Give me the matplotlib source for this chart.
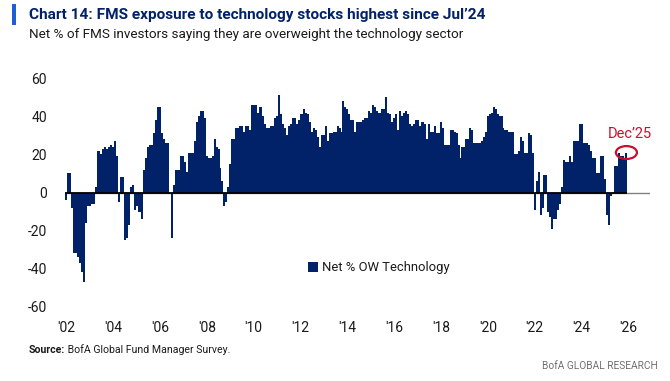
import matplotlib
matplotlib.use("Agg")
import matplotlib.pyplot as plt
from matplotlib import font_manager
from matplotlib.patches import Ellipse, Rectangle
import numpy as np

# ---------------- data (monthly, Jan 2002 - Dec 2025) ----------------
start_year = 2002
v2002 = [-4, 10, 10, -8, -32, -32, -34, -37, -42, -47, -16, -7]
v2003 = [-7, -6, -6, 3, 22, 22, 20, 23, 24, 23, 24, 25]
v2004 = [24, 27, 19, -5, 8, 8, -25, -24, -17, 3, 4, -9]
v2005 = [-7, -10, -10, -14, 12, 18, 24, 25, 25, 31, 38, 45]
v2006 = [45, 31, 28, 26, 26, -1, -24, 4, 12, 12, 12, 19]
v2007 = [19, 16, 11, 21, 21, 21, 27, 37, 40, 43, 43, 39]
v2008 = [19, 18, 18, 19, 28, 24, 23, 13, 6, -7, -5, 3]
v2009 = [15, 28, 28, 34, 34, 35, 35, 32, 35, 35, 33, 46]
v2010 = [46, 46, 42, 45, 45, 40, 36, 34, 34, 35, 35, 39]
v2011 = [40, 51, 41, 36, 34, 30, 35, 36, 39, 39, 36, 38]
v2012 = [41, 41, 44, 42, 41, 37, 32, 34, 33, 29, 24, 30]
v2013 = [30, 35, 27, 31, 31, 32, 32, 35, 34, 32, 48, 45]
v2014 = [44, 41, 38, 38, 32, 37, 37, 37, 38, 39, 39, 43]
v2015 = [42, 46, 45, 43, 42, 42, 44, 44, 50, 42, 41, 37]
v2016 = [39, 41, 33, 43, 40, 42, 43, 41, 36, 35, 36, 38]
v2017 = [38, 35, 37, 37, 36, 28, 36, 32, 32, 35, 31, 31]
v2018 = [37, 34, 25, 25, 25, 33, 33, 32, 31, 25, 18, 24]
v2019 = [24, 28, 28, 34, 33, 26, 26, 26, 26, 27, 29, 32]
v2020 = [40, 41, 42, 45, 44, 41, 40, 40, 34, 33, 33, 32]
v2021 = [32, 32, 20, 20, 22, 29, 27, 21, 21, 31, 30, 21]
v2022 = [-9, 6, 11, -12, -8, 9, 9, -10, -13, -19, -14, -14]
v2023 = [-9, -6, 3, 17, 16, 16, 19, 16, 27, 27, 27, 36]
v2024 = [36, 26, 26, 26, 25, 22, 18, 18, 10, 10, 19, 19]
v2025 = [7, -12, -17, -2, -1, 14, 14, 21, 19, 19, 18, 21]

series_label = "Net % OW Technology"
x_tick_years = list(range(2002, 2027, 2))
x_tick_labels = ["'%02d" % (y % 100) for y in x_tick_years]
y_ticks = [-60, -40, -20, 0, 20, 40, 60]
title = "Chart 14: FMS exposure to technology stocks highest since Jul\u201924"
subtitle = "Net % of FMS investors saying they are overweight the technology sector"
source_bold = "Source:"
source_rest = " BofA Global Fund Manager Survey."
brand = "BofA GLOBAL RESEARCH"
callout = "Dec\u201925"

values = np.array(v2002 + v2003 + v2004 + v2005 + v2006 + v2007 + v2008 + v2009 +
                  v2010 + v2011 + v2012 + v2013 + v2014 + v2015 + v2016 + v2017 +
                  v2018 + v2019 + v2020 + v2021 + v2022 + v2023 + v2024 + v2025, dtype=float)
x = start_year + np.arange(len(values)) / 12.0

# ---------------- style ----------------
avail = {f.name for f in font_manager.fontManager.ttflist}
narrow = "Liberation Sans Narrow" if "Liberation Sans Narrow" in avail else "Roboto"
fam = [narrow, "DejaVu Sans"]
plt.rcParams['font.family'] = fam

NAVY = "#012169"
RED = "#c8102e"
TXT = "#1a1a1a"

W, H = 670, 381
fig = plt.figure(figsize=(W / 100, H / 100), dpi=100)

def fx(px):
    return px / W

def fy(py):
    return 1 - py / H

ax_left, ax_right = 65, 650
ax_top, ax_bot = 78.3, 306.7
ax = fig.add_axes([fx(ax_left), fy(ax_bot), fx(ax_right - ax_left), (ax_bot - ax_top) / H])

px_per_year = 23.42
x0 = 2002 - (66.3 - ax_left) / px_per_year
x1 = 2002 + (ax_right - 66.3) / px_per_year
ax.set_xlim(x0, x1)
ax.set_ylim(-60, 60)

ax.bar(x, values, width=1 / 12.0 * 1.02, color=NAVY, linewidth=0, label=series_label, zorder=2)
ax.axhline(0, color="#808080", lw=1.0, zorder=1)
ax.hlines(0, x[0] - 1 / 24, x[-1] + 1 / 24, color="black", lw=1.3, zorder=3)

for s in ax.spines.values():
    s.set_visible(False)
ax.set_xticks(x_tick_years)
ax.set_xticklabels(x_tick_labels)
ax.set_yticks(y_ticks)
ax.set_yticklabels([str(t) for t in y_ticks])
ax.tick_params(axis='both', length=0, labelsize=10, colors=TXT)
ax.tick_params(axis='y', pad=13)
ax.tick_params(axis='x', pad=10)

leg = ax.legend(loc="center left", bbox_to_anchor=(fx(308), fy(268)), bbox_transform=fig.transFigure,
                frameon=False, handlelength=0.75, handleheight=0.9, handletextpad=0.35,
                borderpad=0, borderaxespad=0, fontsize=9.4)
for t in leg.get_texts():
    t.set_color(TXT)

# callout
ax.add_patch(Ellipse((x[-1], values[-1]), width=21 / px_per_year, height=13 / 1.915,
                     fill=False, edgecolor=RED, lw=1.6, zorder=4, clip_on=False))
ax.annotate(callout, xy=(x[-1], values[-1]), xytext=(629.5, fy(134.5) * H), textcoords='figure pixels',
            ha='center', va='center', color=RED, fontsize=10.5)

# header
fig.add_artist(Rectangle((fx(12), fy(25)), fx(4), 21 / H, transform=fig.transFigure,
                         color="#1f5fd6", lw=0))
fig.text(fx(29), fy(14.5), title, fontsize=11.1, fontweight='bold', color=NAVY, va='center', ha='left')
fig.text(fx(29), fy(34.5), subtitle, fontsize=9.7, color=TXT, va='center', ha='left')

# footer
t1 = fig.text(fx(29), fy(350), source_bold, fontsize=7.6, fontweight='bold', color=TXT, va='center', ha='left')
fig.canvas.draw()
bb = t1.get_window_extent()
fig.text(bb.x1 / W, fy(350), source_rest, fontsize=7.6, color=TXT, va='center', ha='left')
fig.text(fx(658), fy(366), brand, fontsize=7.3, color="#707070", va='center', ha='right')

fig.savefig("out.png", dpi=100)
